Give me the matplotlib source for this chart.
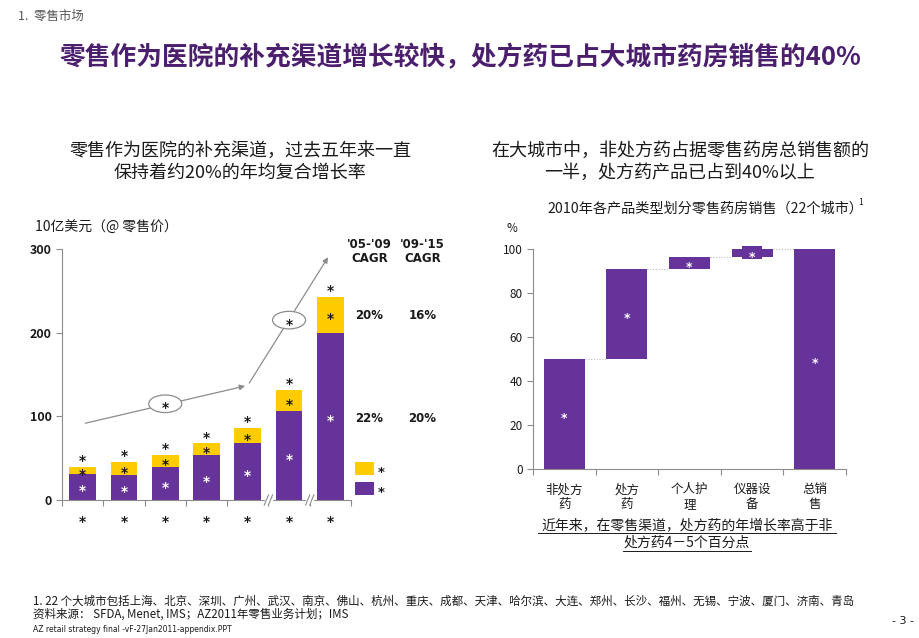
import matplotlib
matplotlib.use("Agg")
import matplotlib.pyplot as plt
import numpy as np
from matplotlib.patches import Ellipse, Rectangle
from matplotlib.transforms import offset_copy

plt.rcParams['font.family'] = ['Noto Sans CJK SC', 'DejaVu Sans']

# ---------------- data ----------------
year_labels = ['*', '*', '*', '*', '*', '*', '*']
purple_vals = [31, 30, 40, 54, 68, 106, 200]
yellow_vals = [9, 16, 14, 14, 18, 26, 43]
left_yticks = [0, 100, 200, 300]
cagr_headers = ["'05-'09\nCAGR", "'09-'15\nCAGR"]
cagr_yellow = ['20%', '16%']
cagr_purple = ['22%', '20%']

wf_categories = ['非处方\n药', '处方\n药', '个人护\n理', '仪器设\n备', '总销\n售']
wf_steps = [50, 41, 5.5, 3.5]
wf_total = 100
right_yticks = [0, 20, 40, 60, 80, 100]

PURPLE = '#66339A'
YELLOW = '#FFCC00'
TITLE_PURPLE = '#4B1F6E'
GRAY = '#8C8C8C'
TXT = '#1A1A1A'

W, H = 920, 638
fig = plt.figure(figsize=(W / 100, H / 100), dpi=100)


def ft(x, y, s, **kw):
    return fig.text(x / W, 1 - y / H, s, **kw)


def axes_px(x0, y_top, x1, y_bot):
    return fig.add_axes([x0 / W, 1 - y_bot / H, (x1 - x0) / W, (y_bot - y_top) / H])


def star(ax, x, y, s='*', color=TXT, size=10, z=3):
    tr = offset_copy(ax.transData, fig=fig, x=0, y=-3.2, units='points')
    ax.text(x, y, s, ha='center', va='center', fontsize=size, color=color,
            family='DejaVu Sans', fontweight='bold', zorder=z, clip_on=False, transform=tr)


# ---------------- header texts ----------------
ft(18, 16, '1.  零售市场', fontsize=9, color='#555555', va='center', ha='left')
ft(460, 58, '零售作为医院的补充渠道增长较快，处方药已占大城市药房销售的40%',
   fontsize=18.5, color=TITLE_PURPLE, fontweight='bold', ha='center', va='center')
ft(240, 162, '零售作为医院的补充渠道，过去五年来一直\n保持着约20%的年均复合增长率',
   fontsize=13, color=TXT, ha='center', va='center', linespacing=1.25)
ft(680, 162, '在大城市中，非处方药占据零售药房总销售额的\n一半，处方药产品已占到40%以上',
   fontsize=13, color=TXT, ha='center', va='center', linespacing=1.25)

# ---------------- left chart ----------------
axL = axes_px(62, 249, 351, 500)
x = np.arange(len(purple_vals))
bw = 0.65
p = np.array(purple_vals, dtype=float)
yv = np.array(yellow_vals, dtype=float)
axL.bar(x, p, bw, color=PURPLE, zorder=2)
axL.bar(x, yv, bw, bottom=p, color=YELLOW, zorder=2)
axL.set_xlim(-0.5, len(x) - 0.5)
axL.set_ylim(0, 300)
axL.set_yticks(left_yticks)
axL.set_yticklabels([str(v) for v in left_yticks], fontsize=9, fontweight='bold', color=TXT)
axL.set_xticks(np.arange(len(x) + 1) - 0.5)
axL.set_xticklabels([])
axL.tick_params(axis='both', direction='out', length=4, color=GRAY, width=0.8)
for s in ['top', 'right']:
    axL.spines[s].set_visible(False)
for s in ['left', 'bottom']:
    axL.spines[s].set_color(GRAY)
    axL.spines[s].set_linewidth(0.8)

tot = p + yv
for i in range(len(x)):
    star(axL, x[i], tot[i] + 12)
    star(axL, x[i], p[i] + yv[i] / 2)
    star(axL, x[i], p[i] / 2, color='white')
    star(axL, x[i], -21, s=year_labels[i])

# axis break marks
for xb in [4.5, 5.5]:
    axL.add_patch(Rectangle((xb - 0.08, -4), 0.16, 8, color='white', zorder=4, clip_on=False))
    for dx in (-0.05, 0.05):
        axL.plot([xb + dx - 0.05, xb + dx + 0.05], [-6, 6], color=GRAY, lw=0.8,
                 zorder=5, clip_on=False)

# growth arrows
axL.annotate('', xy=(4.0, 137), xytext=(0.0, 91),
             arrowprops=dict(arrowstyle='-|>', color=GRAY, lw=0.9, mutation_scale=8), zorder=3)
axL.annotate('', xy=(5.98, 293), xytext=(4.0, 137),
             arrowprops=dict(arrowstyle='-|>', color=GRAY, lw=0.9, mutation_scale=8), zorder=3,
             annotation_clip=False)
for (ex, ey) in [(2.0, 115), (5.0, 215)]:
    axL.add_patch(Ellipse((ex, ey), 0.8, 21, facecolor='white', edgecolor=GRAY, lw=0.9, zorder=4))
    star(axL, ex, ey, z=5)

# CAGR columns
for j, cx in enumerate([6.95, 8.23]):
    axL.text(cx, 297, cagr_headers[j], ha='center', va='center', fontsize=8.5,
             fontweight='bold', color=TXT, clip_on=False, family='DejaVu Sans',
             linespacing=1.1)
    axL.text(cx, 221, cagr_yellow[j], ha='center', va='center', fontsize=8.5,
             fontweight='bold', color=TXT, clip_on=False, family='DejaVu Sans')
    axL.text(cx, 97, cagr_purple[j], ha='center', va='center', fontsize=8.5,
             fontweight='bold', color=TXT, clip_on=False, family='DejaVu Sans')

# legend squares
for col, ly in [(YELLOW, 38), (PURPLE, 14)]:
    axL.add_patch(Rectangle((6.6, ly - 8), 0.45, 16, facecolor=col, clip_on=False))
    star(axL, 7.24, ly, size=9.5)

ft(35, 228, '10亿美元（@ 零售价）', fontsize=10, color=TXT, ha='left', va='center')

# ---------------- right chart (waterfall) ----------------
axR = axes_px(533, 249, 846, 469)
steps = np.array(wf_steps, dtype=float)
bottoms = np.concatenate([[0], np.cumsum(steps)[:-1]])
heights = list(steps) + [wf_total]
bots = list(bottoms) + [0]
xr = np.arange(len(wf_categories))
bwr = 0.655
axR.bar(xr, heights, bwr, bottom=bots, color=PURPLE, zorder=2)
# small highlight around the narrow 4th bar
k = 3
axR.add_patch(Rectangle((xr[k] - 0.16, bots[k] - 1.2), 0.32, heights[k] + 2.4,
                        facecolor=PURPLE, zorder=2, clip_on=False))
levels = np.cumsum(steps)
for i in range(len(steps)):
    axR.plot([xr[i] + bwr / 2, xr[i + 1] - bwr / 2], [levels[i], levels[i]],
             ls=(0, (1, 1.5)), color='#BBBBBB', lw=0.8, zorder=1, clip_on=False)
for i in range(len(xr)):
    star(axR, xr[i], bots[i] + heights[i] / 2, color='white', size=9)
axR.set_xlim(-0.5, len(xr) - 0.5)
axR.set_ylim(0, 100)
axR.set_yticks(right_yticks)
axR.set_yticklabels([str(v) for v in right_yticks], fontsize=8.5, color=TXT)
axR.set_xticks(np.arange(len(xr) + 1) - 0.5)
axR.set_xticklabels([])
axR.tick_params(axis='both', direction='out', length=4, color=GRAY, width=0.8)
for s in ['top', 'right']:
    axR.spines[s].set_visible(False)
for s in ['left', 'bottom']:
    axR.spines[s].set_color(GRAY)
    axR.spines[s].set_linewidth(0.8)
for i, c in enumerate(wf_categories):
    axR.text(xr[i], -6.5, c, ha='center', va='top', fontsize=9, color=TXT,
             linespacing=1.15, clip_on=False)

ft(705, 209, '2010年各产品类型划分零售药房销售（22个城市）', fontsize=10.2,
   color=TXT, ha='center', va='center')
ft(858, 203, '1', fontsize=6, color=TXT, ha='left', va='center')
ft(512, 229, '%', fontsize=8.5, color=TXT, ha='center', va='center')

ft(687, 534, '近年来，在零售渠道，处方药的年增长率高于非\n处方药4－5个百分点',
   fontsize=10, color=TXT, ha='center', va='center', linespacing=1.25)
# underlines
for (yy, x0, x1) in [(533, 538, 836), (551, 623, 751)]:
    fig.add_artist(plt.Line2D([x0 / W, x1 / W], [1 - yy / H, 1 - yy / H],
                              color=TXT, lw=0.7))

# ---------------- footer ----------------
ft(33, 601, '1. 22 个大城市包括上海、北京、深圳、广州、武汉、南京、佛山、杭州、重庆、成都、天津、哈尔滨、大连、郑州、长沙、福州、无锡、宁波、厦门、济南、青岛',
   fontsize=8.3, color=TXT, ha='left', va='center')
ft(33, 614, '资料来源： SFDA, Menet, IMS；AZ2011年零售业务计划；IMS',
   fontsize=8.3, color=TXT, ha='left', va='center')
ft(33, 630, 'AZ retail strategy final -vF-27Jan2011-appendix.PPT',
   fontsize=5.5, color=TXT, ha='left', va='center', family='DejaVu Sans')
ft(903, 621, '- 3 -', fontsize=8, color=TXT, ha='center', va='center', family='DejaVu Sans')

fig.savefig('out.png', dpi=100)
